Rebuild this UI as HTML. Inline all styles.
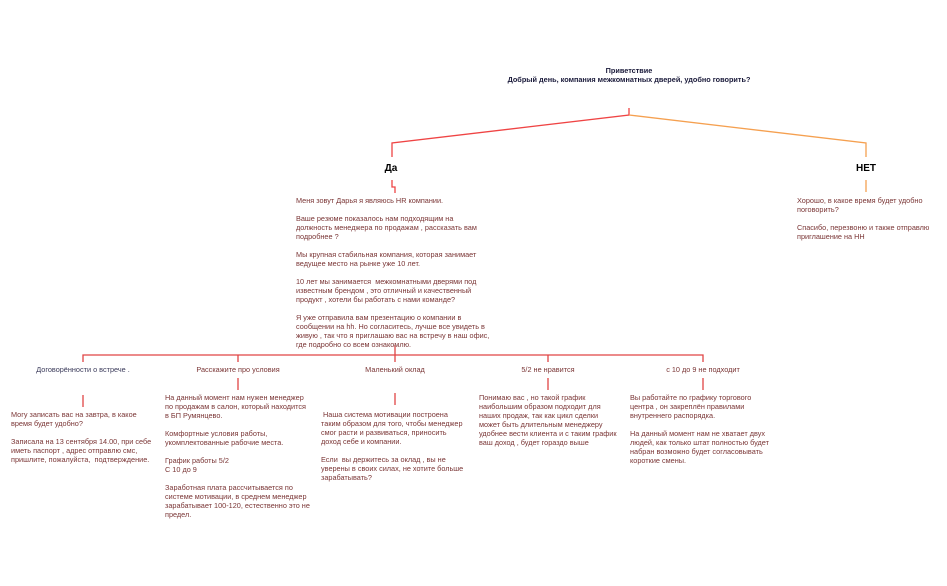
<!DOCTYPE html>
<html><head><meta charset="utf-8"><style>
body{margin:0;width:947px;height:586px;background:#fff;position:relative;overflow:hidden;font-family:"Liberation Sans","DejaVu Sans",sans-serif}
.t{position:absolute;font-size:7.3px;line-height:9px;color:#7a3535;white-space:nowrap}
.l{position:absolute;font-size:7.3px;line-height:9px;white-space:nowrap;transform:translateX(-50%)}
</style></head><body>
<svg width="947" height="586" style="position:absolute;left:0;top:0">
<g fill="none" stroke-width="1.3">
<path d="M629 108V115L392 143V157" stroke="#ef4444"/>
<path d="M629 115L866 143V157" stroke="#f5a050"/>
<path d="M392 180V187H395V193" stroke="#ef4444"/>
<path d="M866 180V192" stroke="#f5a050"/>
<path d="M83 362V355H703V362M238 355V362M548 355V362M395 345V362" stroke="#e04545"/>
<path d="M83 395V407M238 378V390M395 393V405M548 378V390M703 378V390" stroke="#e04545"/>
</g></svg>
<div class="l" style="left:629px;top:66px;font-weight:bold;color:#1a1a3a;text-align:center;font-size:7.3px">Приветствие<br>Добрый день, компания межкомнатных дверей, удобно говорить?</div>
<div class="l" style="left:391px;top:163px;font-weight:bold;font-size:10px;line-height:12px">Да</div>
<div class="l" style="left:866px;top:163px;font-weight:bold;font-size:10px;line-height:12px">НЕТ</div>
<div class="t" style="left:296px;top:196px">Меня зовут Дарья я являюсь HR компании.<br><br>Ваше резюме показалось нам подходящим на<br>должность менеджера по продажам , рассказать вам<br>подробнее ?<br><br>Мы крупная стабильная компания, которая занимает<br>ведущее место на рынке уже 10 лет.<br><br>10 лет мы занимается &nbsp;межкомнатными дверями под<br>известным брендом , это отличный и качественный<br>продукт , хотели бы работать с нами команде?<br><br>Я уже отправила вам презентацию о компании в<br>сообщении на hh. Но согласитесь, лучше все увидеть в<br>живую , так что я приглашаю вас на встречу в наш офис,<br>где подробно со всем ознакомлю.</div>
<div class="t" style="left:797px;top:196px">Хорошо, в какое время будет удобно<br>поговорить?<br><br>Спасибо, перезвоню и также отправлю<br>приглашение на НН</div>
<div class="l" style="left:83px;top:365px;color:#3a3a5a">Договорённости о встрече .</div>
<div class="l" style="left:238px;top:365px;color:#7a3535">Расскажите про условия</div>
<div class="l" style="left:395px;top:365px;color:#7a3535">Маленький оклад</div>
<div class="l" style="left:548px;top:365px;color:#7a3535">5/2 не нравится</div>
<div class="l" style="left:703px;top:365px;color:#7a3535">с 10 до 9 не подходит</div>
<div class="t" style="left:11px;top:410px">Могу записать вас на завтра, в какое<br>время будет удобно?<br><br>Записала на 13 сентября 14.00, при себе<br>иметь паспорт , адрес отправлю смс,<br>пришлите, пожалуйста, &nbsp;подтверждение.</div>
<div class="t" style="left:165px;top:393px">На данный момент нам нужен менеджер<br>по продажам в салон, который находится<br>в БП Румянцево.<br><br>Комфортные условия работы,<br>укомплектованные рабочие места.<br><br>График работы 5/2<br>С 10 до 9<br><br>Заработная плата рассчитывается по<br>системе мотивации, в среднем менеджер<br>зарабатывает 100-120, естественно это не<br>предел.</div>
<div class="t" style="left:321px;top:410px">&nbsp;Наша система мотивации построена<br>таким образом для того, чтобы менеджер<br>смог расти и развиваться, приносить<br>доход себе и компании.<br><br>Если &nbsp;вы держитесь за оклад , вы не<br>уверены в своих силах, не хотите больше<br>зарабатывать?</div>
<div class="t" style="left:479px;top:393px">Понимаю вас , но такой график<br>наибольшим образом подходит для<br>наших продаж, так как цикл сделки<br>может быть длительным менеджеру<br>удобнее вести клиента и с таким график<br>ваш доход , будет гораздо выше</div>
<div class="t" style="left:630px;top:393px">Вы работайте по графику торгового<br>центра , он закреплён правилами<br>внутреннего распорядка.<br><br>На данный момент нам не хватает двух<br>людей, как только штат полностью будет<br>набран возможно будет согласовывать<br>короткие смены.</div>
</body></html>
